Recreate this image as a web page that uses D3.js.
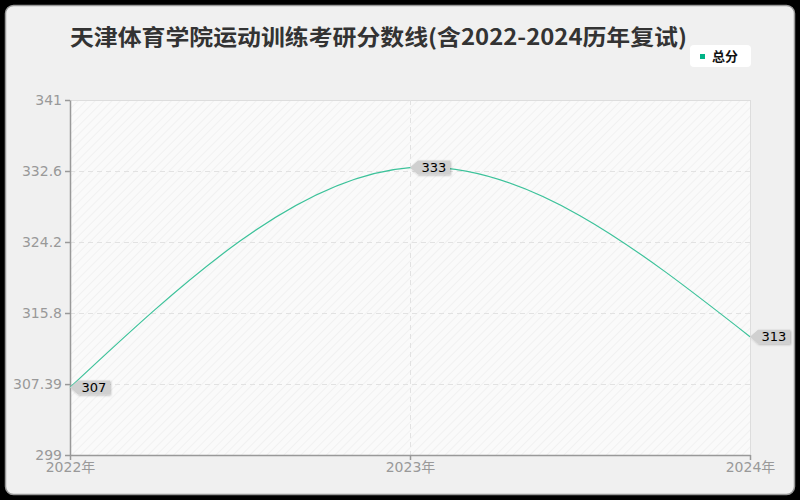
<!DOCTYPE html>
<html><head><meta charset="utf-8">
<script src="https://cdn.jsdelivr.net/npm/d3@7"></script>
<style>html,body{margin:0;padding:0;background:#000;}svg{display:block;}</style>
</head><body>
<svg id="c" width="800" height="500"></svg>
<script>
const title = "天津体育学院运动训练考研分数线(含2022-2024历年复试)";
const categories = ["2022年", "2023年", "2024年"];
const seriesName = "总分";
const values = [307, 333, 313];
const yTicks = [299, 307.39, 315.8, 324.2, 332.6, 341];
const yMin = 299, yMax = 341;

const svg = d3.select("#c");
const font = "'Noto Sans CJK SC','Noto Sans',sans-serif";
const axisFont = "'DejaVu Sans','Noto Sans CJK SC',sans-serif";
const lineColor = "#3cc29a";

const defs = svg.append("defs");
const pat = defs.append("pattern").attr("id","hatch").attr("patternUnits","userSpaceOnUse")
  .attr("width",6).attr("height",6).attr("patternTransform","rotate(45)");
pat.append("rect").attr("width",6).attr("height",6).attr("fill","#fafafa");
pat.append("line").attr("x1",0).attr("y1",0).attr("x2",0).attr("y2",6).attr("stroke","#f1f1f1").attr("stroke-width",2);
const sh = defs.append("filter").attr("id","sh").attr("x","-20%").attr("y","-20%").attr("width","150%").attr("height","160%");
sh.append("feDropShadow").attr("dx",1).attr("dy",1).attr("stdDeviation",0.8).attr("flood-color","#000").attr("flood-opacity",0.25);

svg.append("rect").attr("x",0).attr("y",0).attr("width",800).attr("height",500).attr("fill","#000");
svg.append("rect").attr("x",5.5).attr("y",5.5).attr("width",789).attr("height",489).attr("rx",8)
  .attr("fill","#f0f0f0").attr("stroke","#999").attr("stroke-width",1.5);

const L = 70, R = 750, T = 100, B = 455;
const x = d3.scalePoint().domain(categories).range([L, R]);
const y = d3.scaleLinear().domain([yMin, yMax]).range([B, T]);

svg.append("rect").attr("x",L).attr("y",T).attr("width",R-L).attr("height",B-T).attr("fill","url(#hatch)");
svg.append("line").attr("x1",L).attr("x2",R).attr("y1",T+0.5).attr("y2",T+0.5).attr("stroke","#ddd");
svg.append("line").attr("x1",R+0.5).attr("x2",R+0.5).attr("y1",T).attr("y2",B).attr("stroke","#ddd");

// grid
svg.append("g").selectAll("line").data(yTicks.slice(1,-1)).join("line")
  .attr("x1",L).attr("x2",R).attr("y1",d=>Math.round(y(d))+0.5).attr("y2",d=>Math.round(y(d))+0.5)
  .attr("stroke","#e2e2e2").attr("stroke-dasharray","5,4");
svg.append("g").selectAll("line").data(categories.slice(1,-1)).join("line")
  .attr("x1",d=>x(d)+0.5).attr("x2",d=>x(d)+0.5).attr("y1",T).attr("y2",B)
  .attr("stroke","#e2e2e2").attr("stroke-dasharray","5,4");

// axes
const yAxis = svg.append("g").attr("transform",`translate(${L},0)`)
  .call(d3.axisLeft(y).tickValues(yTicks).tickFormat(d=>String(d)).tickSize(5).tickSizeOuter(0));
const xAxis = svg.append("g").attr("transform",`translate(0,${B})`)
  .call(d3.axisBottom(x).tickSize(5).tickSizeOuter(0));
[yAxis,xAxis].forEach(g=>{
  g.select(".domain").attr("stroke","#999").attr("stroke-width",1.5);
  g.selectAll(".tick line").attr("stroke","#999").attr("stroke-width",1.5);
  g.selectAll("text").attr("fill","#999").attr("font-size",14).attr("font-family",axisFont);
});
yAxis.selectAll("text").attr("dy","0.35em").attr("x",-8);
xAxis.selectAll("text").attr("dy","0.71em").attr("y",7);

// line
const line = d3.line().x((d,i)=>x(categories[i])).y(d=>y(d)).curve(d3.curveNatural);
svg.append("path").datum(values).attr("d",line).attr("fill","none").attr("stroke",lineColor).attr("stroke-width",1.2);

// labels
const lg = svg.append("g").selectAll("g").data(values).join("g")
  .attr("transform",(d,i)=>`translate(${x(categories[i])},${y(d)})`);
lg.append("path").attr("d","M0,0 L8,-7 L40,-7 L40,7 L8,7 Z").attr("fill","#d0d0d0").attr("filter","url(#sh)");
lg.append("text").attr("x",24).attr("y",0).attr("dy","0.36em").attr("text-anchor","middle")
  .attr("font-family",axisFont).attr("font-size",13).attr("fill","#000").text(d=>d);

// title
svg.append("text").attr("x",70).attr("y",45).attr("font-family",font).attr("font-size",22).attr("font-weight","bold")
  .attr("fill","#333").attr("textLength",617).attr("lengthAdjust","spacingAndGlyphs").text(title);

// legend
const leg = svg.append("g");
leg.append("rect").attr("x",690).attr("y",45).attr("width",61).attr("height",22).attr("rx",4).attr("fill","#fff");
leg.append("rect").attr("x",700).attr("y",54).attr("width",5).attr("height",5).attr("fill","#00b386");
leg.append("text").attr("x",712).attr("y",56).attr("dy","0.36em").attr("font-family",font).attr("font-size",13)
  .attr("font-weight","bold").attr("fill","#111").text(seriesName);
</script>
</body></html>
